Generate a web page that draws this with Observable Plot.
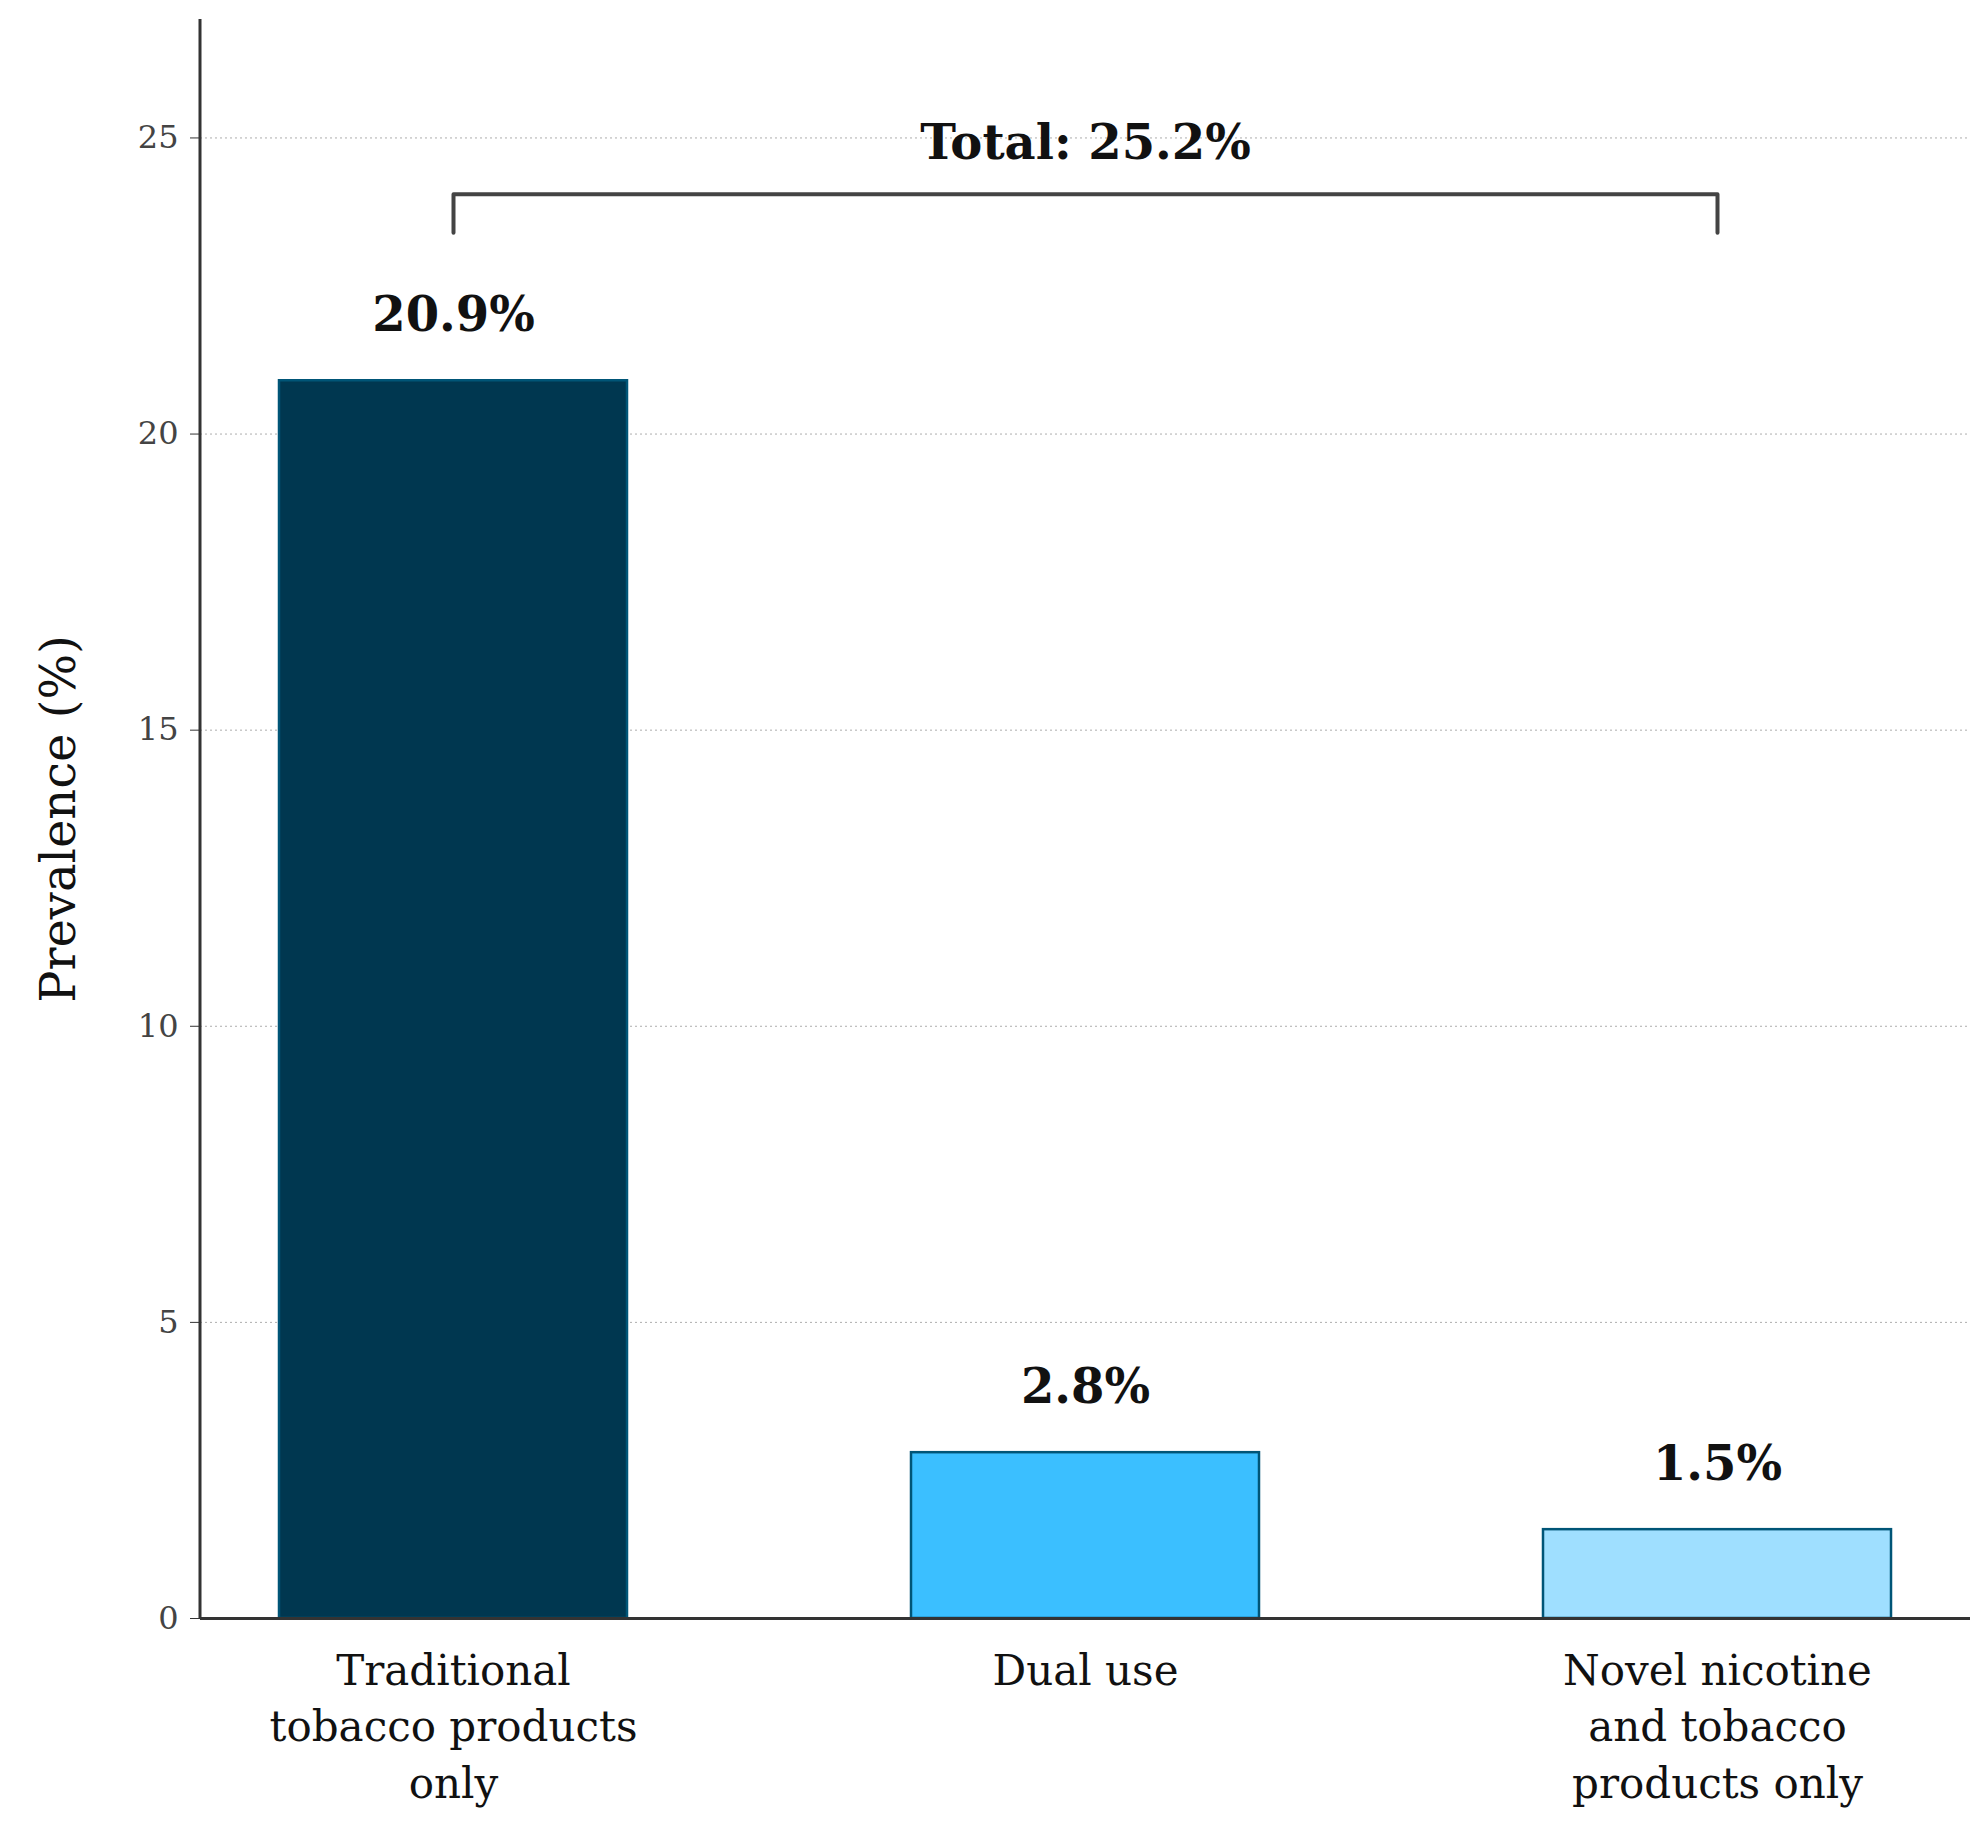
<!DOCTYPE html><html><head><meta charset="utf-8">
<script src="https://cdn.jsdelivr.net/npm/d3@7"></script>
<script src="https://cdn.jsdelivr.net/npm/@observablehq/plot@0.6"></script>
<style>body{margin:0;background:#fff}</style></head><body><div id="c"></div>
<script>
const categories=["Traditional\ntobacco products\nonly","Dual use","Novel nicotine\nand tobacco\nproducts only"];
const values=[20.9,2.8,1.5];
const colors=["#003750","#3bbfff","#9fdfff"];
const labels=["20.9%","2.8%","1.5%"];
const yTicks=[0,5,10,15,20,25];
const totalLabel="Total: 25.2%";
const data=categories.map((c,i)=>({c,v:values[i],col:colors[i],l:labels[i]}));
const bracket=[{x:categories[0],y:23.4},{x:categories[0],y:24.05},{x:categories[2],y:24.05},{x:categories[2],y:23.4}];
const chart=Plot.plot({
  width:1983,height:1826,marginLeft:200,marginRight:13,marginTop:19,marginBottom:208,
  style:{fontFamily:"DejaVu Serif",background:"#fff"},
  x:{domain:categories,paddingInner:0.45,paddingOuter:0.125,label:null},
  y:{domain:[0,27],ticks:yTicks,label:"Prevalence (%)"},
  marks:[
    Plot.gridY(yTicks.slice(1),{stroke:"#999",strokeDasharray:"2,3",strokeOpacity:0.8}),
    Plot.barY(data,{x:"c",y:"v",fill:d=>d.col,stroke:"#005577",strokeWidth:2.5}),
    Plot.text(data,{x:"c",y:d=>d.v+1.1,text:"l",fontSize:48,fontWeight:"bold",fill:"#111"}),
    Plot.line(bracket,{x:"x",y:"y",stroke:"#444",strokeWidth:4}),
    Plot.text([totalLabel],{x:()=>categories[1],y:()=>24.9,text:d=>d,fontSize:48,fontWeight:"bold",fill:"#111"}),
    Plot.axisY({ticks:yTicks,fontSize:32,tickSize:10,tickPadding:12,stroke:"#333",color:"#444",label:"Prevalence (%)",labelAnchor:"center",labelArrow:"none",labelOffset:160}),
    Plot.axisX({fontSize:42,tickSize:0,tickPadding:26,lineHeight:1.35,color:"#111"}),
    Plot.ruleY([0],{stroke:"#333",strokeWidth:3}),
    Plot.ruleX([0],{x:()=>null,stroke:"#333"})
  ]
});
document.getElementById("c").appendChild(chart);
// y-axis line
const svg=d3.select(chart);
svg.append("line").attr("x1",200).attr("x2",200).attr("y1",19).attr("y2",1618).attr("stroke","#333").attr("stroke-width",3);
svg.selectAll("[aria-label='y-axis label'] text").attr("font-size",48).attr("fill","#111");
</script></body></html>
